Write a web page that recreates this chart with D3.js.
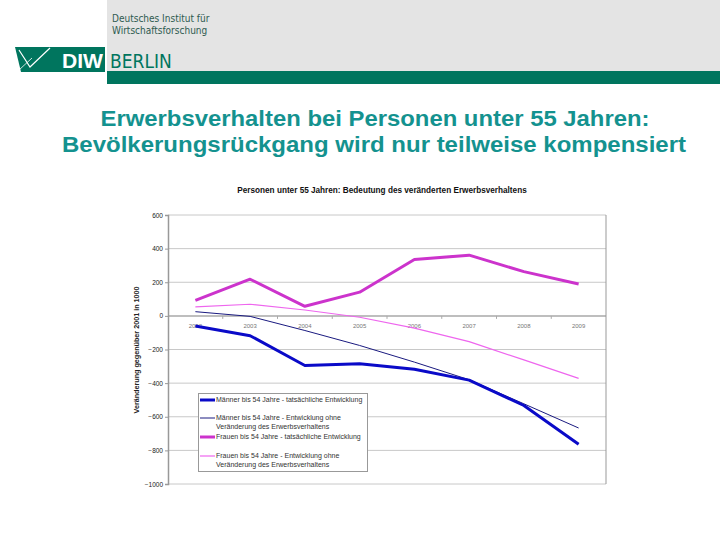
<!DOCTYPE html>
<html><head><meta charset="utf-8">
<script src="https://cdn.jsdelivr.net/npm/d3@7"></script>
<style>html,body{margin:0;padding:0;background:#fff;}svg{display:block;}</style>
</head><body>
<svg id="c" width="720" height="540"></svg>
<script>
const years = ["2002","2003","2004","2005","2006","2007","2008","2009"];
const maennerIst   = [-60, -118, -295, -285, -318, -382, -533, -764];
const maennerOhne  = [25, -3, -87, -176, -275, -380, -523, -667];
const frauenIst    = [92, 218, 57, 141, 335, 361, 263, 190];
const frauenOhne   = [53, 69, 35, -8, -73, -153, -262, -372];
const yTicks = [600, 400, 200, 0, -200, -400, -600, -800, -1000];
const seriesNames = [
  ["Männer bis 54 Jahre - tatsächliche Entwicklung"],
  ["Männer bis 54 Jahre - Entwicklung ohne", "Veränderung des Erwerbsverhaltens"],
  ["Frauen bis 54 Jahre - tatsächliche Entwicklung"],
  ["Frauen bis 54 Jahre - Entwicklung ohne", "Veränderung des Erwerbsverhaltens"]
];
const seriesData = [maennerIst, maennerOhne, frauenIst, frauenOhne];
const seriesColor = ["#0a0ac8", "#1a1a80", "#cc33cc", "#ee66ee"];
const seriesWidth = [3, 1, 3, 1.2];

const svg = d3.select("#c");
const green = "#00755e";

// header
svg.append("rect").attr("x",107).attr("y",0).attr("width",613).attr("height",71).attr("fill","#e4e4e4");
svg.append("rect").attr("x",107).attr("y",71).attr("width",613).attr("height",13).attr("fill",green);
svg.append("path").attr("d","M15,47 L105,47 L105,72 L21,72 Z").attr("fill",green);
svg.append("path").attr("d","M19,50 L30,67 L50,48").attr("fill","none").attr("stroke","#fff").attr("stroke-width",1.2);
svg.append("path").attr("d","M19,70 L32,58").attr("fill","none").attr("stroke","#fff").attr("stroke-width",0.8);
svg.append("text").attr("x",62).attr("y",68).text("DIW").attr("fill","#fff")
  .attr("font-family","Liberation Sans, Arial, sans-serif").attr("font-weight","bold").attr("font-size",20)
  .attr("textLength",41).attr("lengthAdjust","spacingAndGlyphs");
svg.append("text").attr("x",110).attr("y",68).text("BERLIN").attr("fill",green)
  .attr("font-family","DejaVu Sans Condensed, DejaVu Sans").attr("font-size",19);
svg.append("text").attr("x",112).attr("y",22).text("Deutsches Institut für").attr("fill","#2e5a50")
  .attr("font-family","DejaVu Sans Condensed, DejaVu Sans").attr("font-size",10);
svg.append("text").attr("x",112).attr("y",34).text("Wirtschaftsforschung").attr("fill","#2e5a50")
  .attr("font-family","DejaVu Sans Condensed, DejaVu Sans").attr("font-size",10);

// slide title
const tt = svg.append("text").attr("text-anchor","middle").attr("fill","#14928f")
  .attr("font-family","Liberation Sans, Arial, sans-serif").attr("font-size",22.5).attr("font-weight","bold");
tt.append("tspan").attr("x",375).attr("y",126).text("Erwerbsverhalten bei Personen unter 55 Jahren:")
  .attr("textLength",549).attr("lengthAdjust","spacingAndGlyphs");
tt.append("tspan").attr("x",374).attr("y",152).text("Bevölkerungsrückgang wird nur teilweise kompensiert")
  .attr("textLength",624).attr("lengthAdjust","spacingAndGlyphs");

// chart
const x = d3.scalePoint().domain(years).range([168,606]).padding(0.5);
const y = d3.scaleLinear().domain([-1000,600]).range([484,215]);
const F = "Liberation Sans, Arial, sans-serif";

svg.append("text").attr("x",382).attr("y",193).attr("text-anchor","middle")
  .attr("font-family",F).attr("font-weight","bold").attr("font-size",8.2).attr("fill","#111")
  .text("Personen unter 55 Jahren: Bedeutung des veränderten Erwerbsverhaltens");

// gridlines
svg.append("g").selectAll("line").data(yTicks).join("line")
  .attr("x1",168).attr("x2",606).attr("y1",d=>y(d)).attr("y2",d=>y(d))
  .attr("stroke",d=>d===0?"#a8a8a8":"#c8c8c8").attr("stroke-width",d=>d===0?1.5:1);
// plot borders
svg.append("line").attr("x1",606).attr("x2",606).attr("y1",y(600)).attr("y2",y(-1000)).attr("stroke","#999");
// y axis
const yAxis = d3.axisLeft(y).tickValues(yTicks).tickSize(3).tickFormat(d3.format("d"));
const ga = svg.append("g").attr("transform","translate(168,0)").call(yAxis);
ga.select(".domain").attr("stroke","#999").attr("stroke-width",1.5);
ga.selectAll(".tick line").attr("stroke","#999");
ga.selectAll(".tick text").attr("font-family",F).attr("font-size",6.5).attr("fill","#222").attr("x",-5);

svg.append("text").attr("transform","translate(139,350) rotate(-90)").attr("text-anchor","middle")
  .attr("font-family",F).attr("font-size",7.2).attr("font-weight","bold").attr("fill","#222")
  .text("Veränderung gegenüber 2001 in 1000");

// x axis on zero line
const step = x.step();
svg.append("g").selectAll("line").data(years.slice(1)).join("line")
  .attr("x1",d=>x(d)-step/2).attr("x2",d=>x(d)-step/2).attr("y1",y(0)).attr("y2",y(0)+3)
  .attr("stroke","#aaa");
svg.append("g").selectAll("text").data(years).join("text")
  .attr("x",d=>x(d)).attr("y",y(0)+12).attr("text-anchor","middle")
  .attr("font-family",F).attr("font-size",6).attr("fill","#777").text(d=>d);

// lines
const line = d3.line().x((d,i)=>x(years[i])).y(d=>y(d));
const order = [3,2,1,0];
order.forEach(k=>{
  svg.append("path").datum(seriesData[k]).attr("d",line).attr("fill","none")
    .attr("stroke",seriesColor[k]).attr("stroke-width",seriesWidth[k]).attr("stroke-linejoin","round");
});

// legend
const lg = svg.append("g");
lg.append("rect").attr("x",198.5).attr("y",393.5).attr("width",169).attr("height",78)
  .attr("fill","#fff").attr("stroke","#999");
const ly = [400, 418, 437, 456];
seriesNames.forEach((nm,k)=>{
  lg.append("line").attr("x1",200).attr("x2",215).attr("y1",ly[k]).attr("y2",ly[k])
    .attr("stroke",seriesColor[k]).attr("stroke-width",seriesWidth[k]);
  nm.forEach((t,j)=>{
    lg.append("text").attr("x",216).attr("y",ly[k]+2.3+j*8.5).attr("font-family",F)
      .attr("font-size",7).attr("fill","#333").text(t);
  });
});
</script>
</body></html>
